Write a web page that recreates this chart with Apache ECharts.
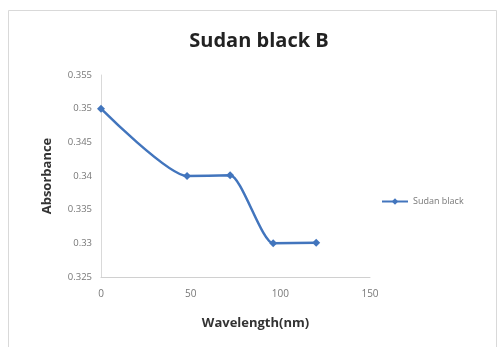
<!DOCTYPE html>
<html><head><meta charset="utf-8">
<script src="https://cdn.jsdelivr.net/npm/echarts@6/dist/echarts.min.js"></script>
<style>html,body{margin:0;padding:0;background:#fff}#c{width:500px;height:347px}</style>
</head><body><div id="c"></div>
<script>
const wavelengths = [0, 48, 72, 96, 120];
const absorbance = [0.350, 0.340, 0.3401, 0.330, 0.3301];
const xTicks = [0, 50, 100, 150];
const yTicks = [0.325, 0.33, 0.335, 0.34, 0.345, 0.35, 0.355];
const seriesName = 'Sudan black';

const chart = echarts.init(document.getElementById('c'), null, {renderer: 'canvas'});
chart.setOption({
  animation: false,
  backgroundColor: '#fff',
  graphic: [{type: 'rect', shape: {x: 8.5, y: 10.5, width: 488, height: 345}, style: {fill: 'none', stroke: '#d9d9d9', lineWidth: 1}, silent: true}],
  title: {text: 'Sudan black B', left: 254, top: 26, textAlign: 'center',
    textStyle: {fontFamily: 'Open Sans', fontWeight: 'bold', fontSize: 20, color: '#222'}},
  legend: {data: [{name: seriesName}], left: 376, top: 192, itemWidth: 26, itemHeight: 8, itemGap: 4,
    textStyle: {fontFamily: 'Open Sans', fontSize: 9, color: '#777'}},
  grid: {left: 101, right: 130, top: 75, bottom: 70},
  xAxis: {type: 'value', min: xTicks[0], max: xTicks[xTicks.length - 1], interval: 50,
    name: 'Wavelength(nm)', nameLocation: 'middle', nameGap: 40,
    nameTextStyle: {fontFamily: 'Open Sans', fontWeight: 'bold', fontSize: 13, color: '#333', padding: [0, 0, 0, 40]},
    axisLine: {show: true, lineStyle: {color: '#d0d0d0', width: 1}},
    axisTick: {show: false}, splitLine: {show: false},
    axisLabel: {fontFamily: 'Open Sans', fontSize: 10, color: '#777', margin: 12}},
  yAxis: {type: 'value', min: yTicks[0], max: yTicks[yTicks.length - 1], interval: 0.005,
    name: 'Absorbance', nameLocation: 'middle', nameGap: 47, nameRotate: 90,
    nameTextStyle: {fontFamily: 'Open Sans', fontWeight: 'bold', fontSize: 13, color: '#333'},
    axisLine: {show: true, lineStyle: {color: '#d9d9d9', width: 1}},
    axisTick: {show: false}, splitLine: {show: false},
    axisLabel: {fontFamily: 'Open Sans', fontSize: 9.5, color: '#777', margin: 9,
      formatter: v => String(parseFloat(v.toFixed(3)))}},
  series: [{name: seriesName, type: 'line', smooth: 0.2,
    data: wavelengths.map((w, i) => [w, absorbance[i]]),
    symbol: 'diamond', symbolSize: 8,
    lineStyle: {color: '#4275bd', width: 2.5},
    itemStyle: {color: '#4275bd'}}]
});
</script></body></html>
